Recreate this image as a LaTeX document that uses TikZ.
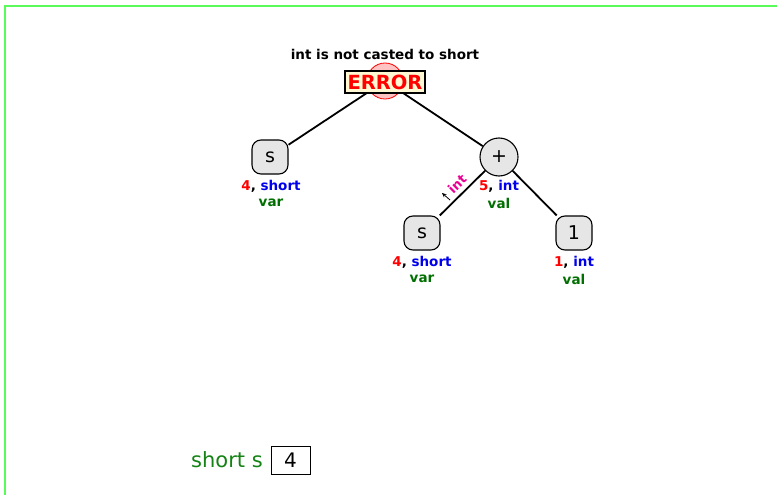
\documentclass[tikz,border=0pt]{standalone}
\usepackage{fontspec}
\setmainfont{DejaVu Sans}
\usetikzlibrary{calc,arrows.meta}
\definecolor{frameg}{RGB}{90,250,90}
\definecolor{vred}{RGB}{255,0,0}
\definecolor{tblue}{RGB}{0,0,235}
\definecolor{kgreen}{RGB}{0,110,0}
\definecolor{sgreen}{RGB}{20,130,20}
\definecolor{imag}{RGB}{235,0,150}
\definecolor{nodegray}{RGB}{230,230,230}
\definecolor{errpink}{RGB}{255,195,195}
\definecolor{erryel}{RGB}{255,248,210}
\tikzset{
  treenode/.style={draw=black, line width=1.1pt, fill=nodegray, rounded corners=9pt, minimum width=36pt, minimum height=34pt, inner sep=0pt, font=\fontsize{19}{19}\selectfont},
  opnode/.style={draw=black, line width=1.1pt, fill=nodegray, circle, minimum size=38pt, inner sep=0pt, font=\fontsize{19}{19}\selectfont},
  info/.style={font=\fontsize{13.5}{14}\selectfont\bfseries, inner sep=0pt},
  edge/.style={line width=1.8pt, black},
}
\begin{document}
\begin{tikzpicture}[x=1pt,y=-1pt]
\useasboundingbox (0,0) rectangle (777,495);
\draw[frameg, line width=2pt] (5,520) -- (5,6.5) -- (800,6.5);
% tree nodes
\node[circle, draw=vred, line width=0.8pt, fill=errpink, minimum size=36pt, inner sep=0pt] (errc) at (385,81) {};
\node[treenode] (s1) at (270,157) {s};
\node[opnode] (plus) at (499,157) {+};
\node[treenode] (s2) at (422,233) {s};
\node[treenode] (one) at (574,233) {1};
% edges
\draw[edge] (errc) -- (s1);
\draw[edge] (errc) -- (plus);
\draw[edge] (plus) -- (s2);
\draw[edge] (plus) -- (one);
% error box on top
\node[draw=black, line width=2pt, fill=erryel, minimum width=80pt, minimum height=22pt, inner sep=0pt, text=vred, font=\fontsize{19.5}{19.5}\selectfont\bfseries] (errbox) at (385,82.5) {ERROR};
\node[info, text=black] (errmsg) at (385,54) {int is not casted to short};
% info labels
\node[info] (i1a) at (271,186) {\textcolor{vred}{4}, \textcolor{tblue}{short}};
\node[info, text=kgreen] (i1b) at (271,203) {var};
\node[info] (i2a) at (499,186) {\textcolor{vred}{5}, \textcolor{tblue}{int}};
\node[info, text=kgreen] (i2b) at (499,203) {val};
\node[info] (i3a) at (422,262) {\textcolor{vred}{4}, \textcolor{tblue}{short}};
\node[info, text=kgreen] (i3b) at (422,279) {var};
\node[info] (i4a) at (574,262) {\textcolor{vred}{1}, \textcolor{tblue}{int}};
\node[info, text=kgreen] (i4b) at (574,279) {val};
% int type annotation
\node[info, text=imag, rotate=44.6, font=\fontsize{13}{13}\selectfont\bfseries] (intlab) at (457,184) {int};
\coordinate (arrtail) at (450,200);
\coordinate (arrtip) at (442,193);
\draw[line width=0.8pt, -{Stealth[length=4.5pt,width=4pt]}] (arrtail) -- (arrtip);
% variable box
\node[font=\fontsize{21}{21}\selectfont, text=sgreen, anchor=east, inner sep=0pt] (sv) at (263,460) {short s};
\node[draw=black, line width=0.9pt, minimum width=39pt, minimum height=28pt, inner sep=0pt, font=\fontsize{20}{20}\selectfont] (sval) at (290.5,460) {4};
\end{tikzpicture}
\end{document}
